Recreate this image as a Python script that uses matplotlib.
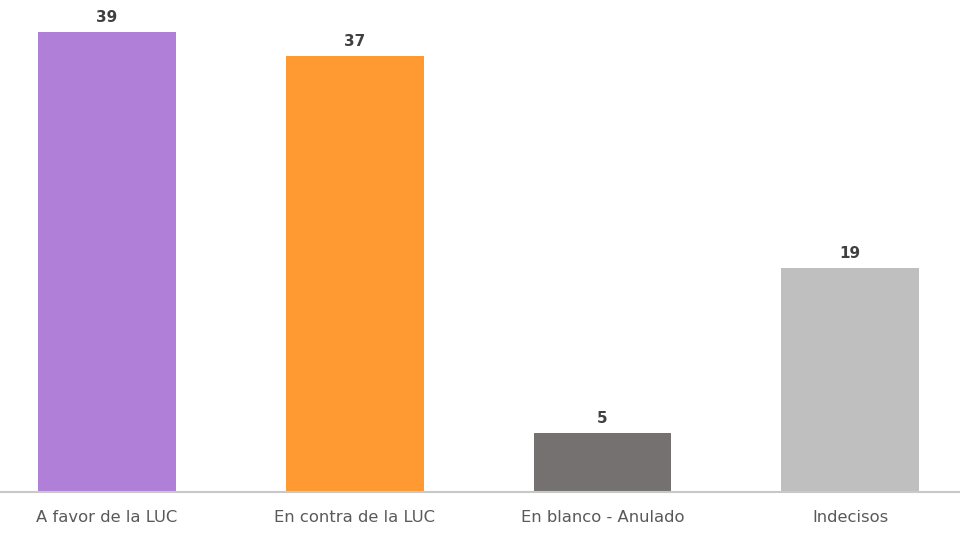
import matplotlib
matplotlib.use("Agg")
import matplotlib.pyplot as plt

categories = ["A favor de la LUC", "En contra de la LUC", "En blanco - Anulado", "Indecisos"]
values = [39, 37, 5, 19]
colors = ["#B07FD8", "#FF9A33", "#767171", "#BFBFBF"]

fig = plt.figure(figsize=(9.6, 5.34), dpi=100)
ax = fig.add_axes([0, 42/534, 1, 492/534])
x = list(range(len(categories)))
bars = ax.bar(x, values, width=0.556, color=colors)
ax.set_xlim(-107/248, 3 + 110/248)
ax.set_ylim(0, 492/11.79)
for b, v in zip(bars, values):
    ax.text(b.get_x() + b.get_width()/2, v + 0.6, str(v), ha="center", va="bottom",
            fontsize=11, fontweight="bold", color="#404040")
ax.set_xticks(x)
ax.set_xticklabels(categories, fontsize=11.8, color="#595959")
ax.tick_params(axis="x", length=0, pad=13)
ax.set_yticks([])
for s in ["top", "left", "right"]:
    ax.spines[s].set_visible(False)
ax.spines["bottom"].set_color("#C8C8C8")
ax.spines["bottom"].set_linewidth(1.5)
fig.savefig("out.png", dpi=100)
